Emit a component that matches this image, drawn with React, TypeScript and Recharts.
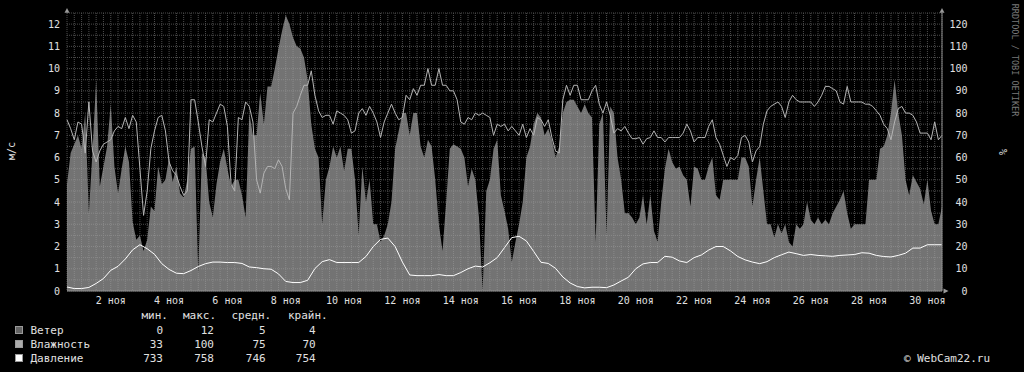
import React from 'react';
import { ComposedChart, Area, Line, XAxis, YAxis, CartesianGrid } from 'recharts';

const FONT = '"DejaVu Sans Mono", monospace';
const TEXT = '#e0e0e0';

// 3-hour samples starting 1 Nov 00:00, m/s
const windSpeed = [
  4.8, 6.2, 6.6, 7.0, 6.4, 8.0, 3.5, 6.3,
  9.5, 4.7, 5.6, 6.5, 8.4, 5.6, 4.4, 5.5,
  6.5, 5.8, 3.1, 2.3, 2.5, 1.8, 2.3, 3.8,
  3.6, 5.6, 4.8, 5.0, 6.0, 4.9, 5.6, 4.4,
  4.2, 5.0, 6.4, 6.5, 0.8, 6.2, 6.0, 4.0,
  3.3, 4.8, 5.8, 6.4, 5.5, 4.7, 5.0, 5.0,
  4.3, 3.3, 8.0, 7.0, 7.0, 8.9, 7.5, 9.2,
  9.2, 10.0, 10.9, 11.7, 12.4, 12.0, 11.4, 11.0,
  10.9, 10.5, 9.5, 7.5, 6.4, 6.0, 3.0, 5.0,
  5.6, 6.5, 6.0, 6.5, 5.4, 6.4, 6.4, 5.0,
  2.5, 5.6, 4.0, 5.0, 3.0, 3.0, 2.2, 2.5,
  3.0, 4.0, 6.4, 7.2, 8.0, 8.0, 7.0, 8.0,
  8.0, 6.5, 6.0, 6.8, 6.5, 5.0, 3.0, 1.8,
  4.0, 6.4, 6.6, 6.5, 6.4, 6.0, 4.7, 5.5,
  5.0, 3.3, 0, 4.5, 5.0, 6.4, 6.8, 4.3,
  3.6, 2.8, 1.3, 2.2, 3.0, 4.0, 6.0, 6.5,
  7.5, 8.0, 7.8, 7.0, 7.3, 6.8, 6.0, 6.5,
  8.0, 8.5, 8.6, 8.6, 8.3, 8.0, 8.4, 8.0,
  7.8, 2.2, 7.5, 8.0, 2.5, 8.3, 8.0, 6.0,
  5.0, 3.5, 3.5, 3.3, 3.0, 3.3, 4.3, 3.0,
  4.3, 2.7, 2.2, 4.0, 5.5, 6.4, 5.8, 5.5,
  5.6, 5.2, 5.0, 3.8, 5.6, 5.5, 5.0, 5.0,
  5.6, 6.0, 4.3, 4.1, 5.0, 5.0, 5.0, 5.0,
  5.0, 6.0, 6.0, 5.6, 3.8, 5.0, 6.0, 4.5,
  3.0, 3.0, 2.4, 3.0, 2.6, 3.0, 2.2, 2.0,
  3.0, 2.8, 3.0, 4.0, 3.2, 3.0, 3.3, 3.0,
  3.2, 3.0, 3.5, 3.8, 4.1, 4.5, 3.5, 2.8,
  3.0, 3.0, 3.0, 3.0, 5.0, 5.0, 5.0, 6.4,
  6.5, 7.0, 8.0, 9.5, 8.0, 7.0, 5.0, 4.3,
  5.2, 4.9, 4.6, 3.9, 5.0, 3.6, 3.0, 3.0,
  3.8,
];

// 3-hour samples, %
const humidity = [
  77, 73, 68, 76, 75, 62, 85, 63,
  58, 63, 66, 67, 68, 72, 74, 73,
  78, 73, 79, 76, 55, 34, 45, 64,
  72, 78, 79, 72, 58, 54, 52, 47,
  43, 45, 86, 86, 76, 65, 56, 77,
  76, 80, 84, 83, 74, 48, 45, 78,
  77, 85, 83, 76, 50, 44, 53, 56,
  56, 55, 59, 56, 46, 41, 80, 83,
  88, 92.5, 92.5, 99, 88, 81, 78, 79,
  79, 75, 81, 80, 79, 77, 71, 72,
  80, 82, 79, 83, 80, 76, 69, 76,
  80, 84, 80, 77, 78, 88, 86, 91,
  88, 92.5, 92.5, 100, 92.5, 92.5, 100, 92.5,
  92.5, 90, 90, 86, 76, 75, 78, 77,
  80, 79, 80, 79, 78, 70, 75, 74,
  75, 72, 74, 72, 70, 75, 69, 73,
  70, 78, 77, 74, 77, 69, 63, 62,
  86, 92.5, 88, 92.5, 92.5, 86, 86, 86,
  90, 92.5, 84, 80, 85, 79, 71, 73,
  72, 74, 71, 68.5, 68.5, 69, 66, 68.5,
  69, 72, 69, 69, 67, 69, 69, 69,
  69, 71, 75, 72, 67, 69, 69, 69,
  74, 77, 69, 66, 61, 56, 60, 59,
  61, 69, 70, 67, 58, 63, 65, 75,
  81, 83, 84, 85, 83, 78, 85, 88,
  86, 85, 85, 85, 85, 83, 85, 88,
  92, 92, 91, 90, 85, 84, 92, 85,
  85, 85, 85, 84, 84, 83, 81, 79,
  75, 73, 68, 76, 82, 83, 80, 80,
  79, 76, 71, 71, 71, 68, 76, 68,
  70,
];

// 6-hour samples, mm Hg
const pressure = [
  734.8, 734.1, 734.1, 734.6, 736.4, 738.6, 742.3, 744.1, 747.4, 751.5,
  753.8, 752, 749.5, 745.3, 742.7, 741, 740.8, 742.2, 744, 745.3,
  746, 746, 745.8, 745.8, 745.4, 743.8, 743.5, 743, 742.8, 740.7,
  737.3, 736.8, 736.8, 737.8, 743.1, 746.2, 747.1, 745.8, 745.8, 745.8,
  745.8, 748.5, 753, 756.2, 756.8, 753, 746, 740.2, 739.9, 739.9,
  739.9, 740.4, 739.9, 739.9, 741.3, 743, 744.2, 743.8, 745.7, 748,
  752.5, 757, 757.6, 755.5, 750.8, 745.9, 745.4, 743.2, 739.3, 736.6,
  735, 734.4, 734.7, 734.7, 734.5, 735.7, 737.5, 739.2, 743, 745.2,
  745.8, 745.8, 748.6, 748.2, 746.5, 745.8, 748, 749.2, 751.4, 753,
  753, 751, 748.5, 747, 746, 745.3, 746.2, 748, 749.3, 750.5,
  749.8, 749, 749.4, 749, 748.8, 748.6, 749, 749.2, 749.4, 750.2,
  750, 749, 748.5, 748.3, 749, 750, 752.3, 752.3, 753.8, 753.8,
  753.8,
];

const dayTicks = [1.5, 3.5, 5.5, 7.5, 9.5, 11.5, 13.5, 15.5, 17.5, 19.5, 21.5, 23.5, 25.5, 27.5, 29.5];
const dayLabels = ['2 ноя', '4 ноя', '6 ноя', '8 ноя', '10 ноя', '12 ноя', '14 ноя', '16 ноя', '18 ноя', '20 ноя', '22 ноя', '24 ноя', '26 ноя', '28 ноя', '30 ноя'];
const windTicks = [0, 1, 2, 3, 4, 5, 6, 7, 8, 9, 10, 11, 12];
const humidityTicks = [0, 10, 20, 30, 40, 50, 60, 70, 80, 90, 100, 110, 120];
const gridDays = Array.from({ length: 121 }, (_, i) => i / 4);
const gridLevels = Array.from({ length: 26 }, (_, i) => i / 2);

const legendNames = ['Ветер', 'Влажность', 'Давление'];
const legendColors = ['#646464', '#acacac', '#ffffff'];
const statHeaders = ['мин.', 'макс.', 'средн.', 'крайн.'];
const statValues = [
  [0, 12, 5, 4],
  [33, 100, 75, 70],
  [733, 758, 746, 754],
];

const rows = windSpeed.map((w, i) => ({
  t: (i * 3) / 24,
  wind: w,
  hum: humidity[i],
  pres: i % 2 === 0 ? pressure[i / 2] : null,
}));

const XTick = (props: any) => (
  <text x={props.x} y={props.y + 12.5} textAnchor="middle" fontSize={10} fontFamily={FONT} fill={TEXT}>
    {dayLabels[dayTicks.indexOf(props.payload.value)]}
  </text>
);

// left labels right-aligned just left of the axis line
const LeftTick = (props: any) => (
  <text x={60} y={props.y + 3.6} textAnchor="end" fontSize={10} fontFamily={FONT} fill={TEXT}>
    {props.payload.value}
  </text>
);

const RightTick = (props: any) => (
  <text x={props.x + 25.5} y={props.y + 3.6} textAnchor="end" fontSize={10} fontFamily={FONT} fill={TEXT}>
    {props.payload.value}
  </text>
);

const headerLeft = [141.5, 183, 231.5, 288];
const valueRight = [163, 214, 265.7, 315.7];
const rowTop = [324.4, 337.7, 352.4];

export default function App() {
  const txt: React.CSSProperties = {
    position: 'absolute',
    fontFamily: FONT,
    fontSize: 11,
    lineHeight: '13px',
    color: TEXT,
    whiteSpace: 'pre',
  };
  return (
    <div style={{ position: 'absolute', left: 0, top: 0, width: 1024, height: 372, background: '#000', overflow: 'hidden' }}>
      <ComposedChart width={1024} height={372} data={rows} margin={{ top: 13, right: 42, bottom: 61, left: 0 }}>
        <XAxis xAxisId="grid" type="number" dataKey="t" domain={[0, 30]} ticks={gridDays} interval={0} hide />
        <YAxis yAxisId="grid" type="number" dataKey="wind" domain={[0, 12.5]} ticks={gridLevels} interval={0} allowDataOverflow hide />
        <CartesianGrid xAxisId="grid" yAxisId="grid" stroke="#4c4c4c" strokeDasharray="1 1" />
        <XAxis
          type="number"
          dataKey="t"
          domain={[0, 30]}
          ticks={dayTicks}
          interval={0}
          height={20}
          tickSize={0}
          tickMargin={0}
          tickLine={false}
          axisLine={{ stroke: '#8a8a8a' }}
          tick={<XTick />}
        />
        <YAxis
          yAxisId="wind"
          orientation="left"
          type="number"
          domain={[0, 12.5]}
          ticks={windTicks}
          interval={0}
          width={67}
          tickSize={0}
          tickMargin={7}
          tickLine={false}
          axisLine={{ stroke: '#8a8a8a' }}
          tick={<LeftTick />}
        />
        <YAxis
          yAxisId="hum"
          orientation="right"
          type="number"
          domain={[0, 125]}
          ticks={humidityTicks}
          interval={0}
          width={40}
          tickSize={0}
          tickMargin={0}
          tickLine={false}
          axisLine={{ stroke: '#8a8a8a' }}
          tick={<RightTick />}
        />
        <YAxis yAxisId="pres" type="number" domain={[733, 858]} hide />
        <Area
          yAxisId="wind"
          dataKey="wind"
          type="linear"
          stroke="none"
          fill="#a4a4a4"
          fillOpacity={0.7}
          isAnimationActive={false}
        />
        <Line
          yAxisId="hum"
          dataKey="hum"
          type="linear"
          stroke="#b4b4b4"
          strokeWidth={1}
          dot={false}
          isAnimationActive={false}
        />
        <Line
          yAxisId="pres"
          dataKey="pres"
          type="linear"
          stroke="#ffffff"
          strokeWidth={1}
          dot={false}
          connectNulls
          isAnimationActive={false}
        />
      </ComposedChart>

      <svg width={1024} height={372} style={{ position: 'absolute', left: 0, top: 0, pointerEvents: 'none' }}>
        <polygon points="64.5,12.7 69.5,12.7 67,8" fill="#9a9a9a" />
        <polygon points="939.5,12.7 944.5,12.7 942,8" fill="#9a9a9a" />
        <polygon points="943.5,288.5 943.5,293.5 948.5,291" fill="#9a9a9a" />
        <text transform="translate(15,151) rotate(-90)" textAnchor="middle" fontSize={10} fontFamily={FONT} fill={TEXT}>
          м/с
        </text>
        <text transform="translate(1006.5,152) rotate(-90)" textAnchor="middle" fontSize={10} fontFamily={FONT} fill={TEXT}>
          %
        </text>
        <text transform="translate(1012,60) rotate(90)" textAnchor="middle" fontSize={8.5} fontFamily={FONT} fill="#7a7a7a">
          RRDTOOL / TOBI OETIKER
        </text>
      </svg>

      {statHeaders.map((h, i) => (
        <div key={h} style={{ ...txt, left: headerLeft[i], top: 308.6 }}>
          {h}
        </div>
      ))}
      {legendNames.map((name, r) => (
        <React.Fragment key={name}>
          <div
            style={{
              position: 'absolute',
              left: 15,
              top: rowTop[r] + 2,
              width: 6,
              height: 6,
              background: legendColors[r],
              border: '1px solid #9a9a9a',
            }}
          />
          <div style={{ ...txt, left: 30.5, top: rowTop[r] }}>{name}</div>
          {statValues[r].map((v, c) => (
            <div key={c} style={{ ...txt, right: 1024 - valueRight[c], top: rowTop[r] }}>
              {v}
            </div>
          ))}
        </React.Fragment>
      ))}
      <div style={{ ...txt, left: 904, top: 352 }}>© WebCam22.ru</div>
    </div>
  );
}
